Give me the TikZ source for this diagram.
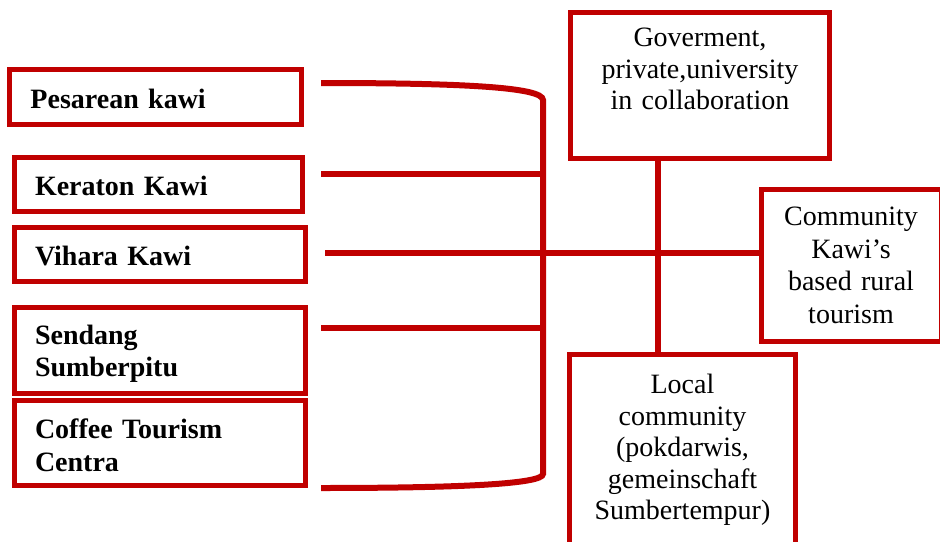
\documentclass[tikz,border=0pt]{standalone}
\usepackage{fontspec}
\setmainfont{Liberation Serif}
\definecolor{dred}{RGB}{192,0,0}
\newcommand\toppad[1]{\rule{0pt}{#1}}
\begin{document}
\begin{tikzpicture}[x=1pt,y=-1pt,
  lbox/.style={draw=dred, line width=5pt, inner xsep=21pt, inner ysep=0pt, align=left,
    font=\fontsize{28}{32}\selectfont\bfseries},
  rbox/.style={draw=dred, line width=5pt, inner sep=0pt, align=center,
    font=\fontsize{28}{31.5}\selectfont},
  link/.style={draw=dred, line width=6pt}]
\useasboundingbox (0,0) rectangle (940,541);
% left boxes
\node[lbox, text width=250pt, minimum height=55pt] (p) at (155.5,97) {\toppad{23pt}Pesarean kawi};
\node[lbox, text width=246pt, minimum height=54pt] (k) at (158,184) {\toppad{23pt}Keraton Kawi};
\node[lbox, text width=249pt, minimum height=54pt] (v) at (159.5,254) {\toppad{23pt}Vihara Kawi};
\node[lbox, text width=249pt, minimum height=86pt] (s) at (159.5,350) {\toppad{27pt}Sendang\\Sumberpitu};
\node[lbox, text width=249pt, minimum height=85pt] (c) at (159.5,442.5) {\toppad{25pt}Coffee Tourism\\[1pt]Centra};
% right boxes
\node[rbox, text width=259pt, minimum height=146pt] (g) at (700,85)
  {Goverment,\\private,university\\in collaboration\rule[-32pt]{0pt}{32pt}};
\node[rbox, text width=180pt, minimum height=152pt, font=\fontsize{28}{32.5}\selectfont] (cm) at (851,265.5)
  {Community\\Kawi's\\based rural\\tourism};
\node[rbox, text width=226pt, minimum height=191pt] (lo) at (682.5,450)
  {Local\\community\\(pokdarwis,\\gemeinschaft\\Sumbertempur)};
% bracket
\coordinate (bx) at (543,0);
\coordinate (pl) at (321,83);
\coordinate (kl) at (321,174);
\coordinate (vl) at (325,253);
\coordinate (sl) at (321,328);
\coordinate (cl) at (321,488);
\coordinate (btop) at (543,100);
\coordinate (bbot) at (543,474);
\draw[link] (pl) .. controls (460,83) and (543,87) .. (btop) -- (bbot)
  .. controls (543,484) and (460,488) .. (cl);
\draw[link] (kl) -- (kl -| bx);
\draw[link] (sl) -- (sl -| bx);
\draw[link] (vl) -- (vl -| cm.west);
\coordinate (gx) at (658,0);
\draw[link] (g.south -| gx) -- (lo.north -| gx);
\end{tikzpicture}
\end{document}
